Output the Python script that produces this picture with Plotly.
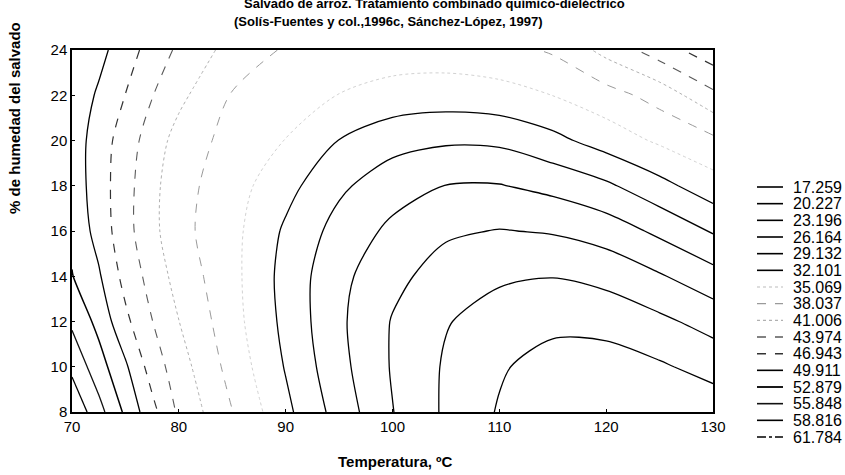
import plotly.graph_objects as go

# Response surface sampled on a temperature / bran moisture grid
temperature = [70, 72.5, 75, 77.5, 80, 85, 90, 95, 100, 105, 110, 115, 120, 125, 130]
humidity = [8, 10, 12, 14, 16, 18, 20, 22, 24]
response = [
    [61.3, 56.9, 52.35, 47.87, 43.44, 38.1, 32.82, 27.94, 23.29, 19.76, 17.0, 14.6, 14.5, 14.8, 15.5],      # 8 %
    [58.1, 54.13, 50.36, 45.62, 42.32, 36.92, 31.90, 27.09, 22.94, 19.88, 17.6, 16.0, 15.84, 16.88, 18.3],  # 10 %
    [55.3, 52.03, 47.63, 44.04, 41.05, 36.18, 31.30, 26.72, 23.01, 20.39, 19.07, 18.04, 18.31, 19.59, 21.34],  # 12 %
    [53.0, 50.28, 45.95, 42.86, 39.82, 35.96, 31.05, 27.00, 23.98, 21.95, 20.60, 20.31, 21.09, 22.91, 25.05],  # 14 %
    [52.2, 48.82, 45.01, 41.84, 38.95, 35.96, 31.63, 28.04, 25.5, 23.61, 23.07, 23.44, 24.57, 26.79, 29.40],  # 16 %
    [51.6, 48.43, 45.05, 41.87, 39.10, 36.34, 33.09, 29.68, 27.44, 26.1, 26.02, 27.01, 28.62, 31.17, 33.85],  # 18 %
    [51.5, 48.52, 45.49, 42.55, 39.89, 36.92, 35.0, 32.04, 30.18, 29.53, 29.68, 31.27, 33.42, 35.53, 37.34],  # 20 %
    [51.9, 49.50, 46.90, 44.09, 41.75, 37.83, 36.38, 35.0, 33.94, 33.59, 34.04, 35.1, 36.84, 39.17, 43.28],   # 22 %
    [52.3, 50.83, 48.27, 45.76, 43.43, 39.90, 37.7, 36.9, 36.6, 36.6, 37.0, 38.4, 41.93, 45.50, 48.8],      # 24 %
]

# Contour levels shown in the key
levels = [17.259, 20.227, 23.196, 26.164, 29.132, 32.101, 35.069, 38.037,
          41.006, 43.974, 46.943, 49.911, 52.879, 55.848, 58.816, 61.784]

# Line style of each level
level_colors = ["#000000"] * 6 + ["#d2d2d2", "#9a9a9a", "#b0b0b0", "#5a5a5a",
                                  "#333333", "#000000", "#000000", "#111111",
                                  "#000000", "#000000"]
level_dashes = ["solid"] * 6 + ["dot", "dash", "dot", "dash", "dash",
                                "solid", "solid", "solid", "solid", "dashdot"]
level_widths = [1.3] * 6 + [1.0, 1.0, 1.0, 1.1, 1.2, 1.3, 1.5, 1.3, 1.3, 1.2]

FONT = "Liberation Sans, Arial, sans-serif"

fig = go.Figure()

for lvl, col, dash, w in zip(levels, level_colors, level_dashes, level_widths):
    fig.add_trace(go.Contour(
        x=temperature, y=humidity, z=response,
        contours=dict(start=lvl, end=lvl, size=1, coloring="none"),
        line=dict(color=col, width=w, dash=dash, smoothing=0.85),
        showscale=False, hoverinfo="skip",
    ))

# Key: one short line per level, with its value, on a small axis pair of its own
for i, (lvl, col, dash, w) in enumerate(zip(levels, level_colors, level_dashes, level_widths)):
    fig.add_trace(go.Scatter(
        x=[0, 1], y=[-i, -i], xaxis="x2", yaxis="y2", mode="lines",
        line=dict(color=col, width=w + 0.3, dash=dash),
        hoverinfo="skip", showlegend=False,
    ))
    fig.add_annotation(
        x=1.3, y=-i, xref="x2", yref="y2", text=f"{lvl:.3f}",
        showarrow=False, xanchor="left", yanchor="middle",
        font=dict(family=FONT, size=16, color="#000"),
    )

axis_common = dict(
    showline=True, mirror=True, linecolor="#000", linewidth=1.5,
    showgrid=False, zeroline=False, ticks="inside", ticklen=3,
    tickcolor="#000", tickfont=dict(family=FONT, size=15, color="#000"),
    automargin=False,
)

fig.update_layout(
    width=845, height=475,
    margin=dict(l=72, r=3, t=50, b=30),
    paper_bgcolor="white", plot_bgcolor="white",
    showlegend=False,
    xaxis=dict(domain=[0, 0.8325], range=[70, 130], tickvals=list(range(70, 131, 10)), **axis_common),
    yaxis=dict(domain=[0.0835, 1], range=[8, 24], tickvals=list(range(8, 25, 2)), **axis_common),
    xaxis2=dict(domain=[0.8896, 1.0], range=[0, 3.27], visible=False, anchor="y2"),
    yaxis2=dict(domain=[0, 1], range=[-15.48, 8.22], visible=False, anchor="x2"),
)

fig.add_annotation(
    x=0.4714, y=1.118, xref="paper", yref="paper", showarrow=False,
    text="<b>Salvado de arroz. Tratamiento combinado químico-dieléctrico</b>",
    xanchor="center", yanchor="middle", font=dict(family=FONT, size=13, color="#000"),
)
fig.add_annotation(
    x=0.4104, y=1.0734, xref="paper", yref="paper", showarrow=False,
    text="<b>(Solís-Fuentes y col.,1996c, Sánchez-López, 1997)</b>",
    xanchor="center", yanchor="middle", font=dict(family=FONT, size=13, color="#000"),
)
fig.add_annotation(
    x=0.4195, y=-0.043, xref="paper", yref="paper", showarrow=False,
    text="<b>Temperatura, ºC</b>",
    xanchor="center", yanchor="middle", font=dict(family=FONT, size=15, color="#000"),
)
fig.add_annotation(
    x=-0.074, y=0.828, xref="paper", yref="paper", showarrow=False,
    text="<b>% de humedad del salvado</b>", textangle=-90,
    xanchor="center", yanchor="middle", font=dict(family=FONT, size=15, color="#000"),
)

fig.write_html("out.html")
